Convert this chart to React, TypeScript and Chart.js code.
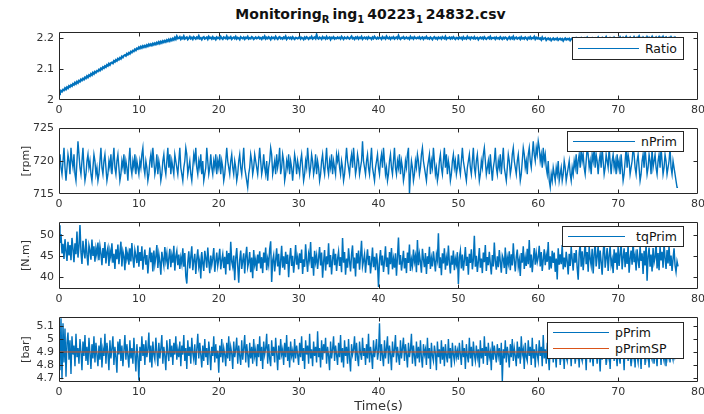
import React, { useEffect, useRef } from "react";
import { Chart, registerables } from "chart.js";

Chart.register(...registerables);

// ---------------- data ----------------
const SAMPLE_STEP_S = 0.125; // sampling interval of the logged signals (s)
const X_TICKS = [0, 10, 20, 30, 40, 50, 60, 70, 80];
const RATIO_TICKS = [2, 2.1, 2.2];
const NPRIM_TICKS = [715, 720, 725];
const TQPRIM_TICKS = [40, 45, 50];
const PPRIM_TICKS = [4.7, 4.8, 4.9, 5, 5.1];

const ratioValues = [
  2.025, 2.022, 2.030, 2.027, 2.033, 2.031, 2.038, 2.034, 2.041, 2.038, 2.045, 2.042, 2.048, 2.045, 2.052, 2.049, 2.056, 2.052, 2.059, 2.055,
  2.062, 2.059, 2.066, 2.063, 2.069, 2.066, 2.073, 2.070, 2.077, 2.073, 2.080, 2.077, 2.084, 2.080, 2.088, 2.084, 2.091, 2.088, 2.094, 2.092,
  2.098, 2.095, 2.102, 2.099, 2.106, 2.103, 2.109, 2.106, 2.113, 2.110, 2.117, 2.113, 2.119, 2.121, 2.118, 2.126, 2.123, 2.129, 2.126, 2.133,
  2.130, 2.136, 2.133, 2.140, 2.137, 2.143, 2.145, 2.142, 2.149, 2.146, 2.152, 2.149, 2.156, 2.153, 2.159, 2.157, 2.163, 2.160, 2.166, 2.164,
  2.170, 2.166, 2.172, 2.168, 2.174, 2.170, 2.175, 2.171, 2.177, 2.173, 2.179, 2.175, 2.180, 2.176, 2.182, 2.178, 2.183, 2.179, 2.185, 2.181,
  2.187, 2.182, 2.188, 2.184, 2.190, 2.186, 2.191, 2.187, 2.193, 2.189, 2.195, 2.190, 2.196, 2.192, 2.198, 2.194, 2.201, 2.196, 2.205, 2.198,
  2.199, 2.203, 2.196, 2.201, 2.198, 2.205, 2.197, 2.200, 2.202, 2.195, 2.199, 2.204, 2.198, 2.201, 2.196, 2.203, 2.200, 2.197, 2.202, 2.199,
  2.206, 2.198, 2.200, 2.195, 2.201, 2.203, 2.197, 2.199, 2.202, 2.196, 2.204, 2.199, 2.201, 2.197, 2.203, 2.198, 2.200, 2.195, 2.202, 2.199,
  2.201, 2.197, 2.204, 2.199, 2.196, 2.202, 2.200, 2.198, 2.205, 2.197, 2.201, 2.199, 2.203, 2.196, 2.200, 2.202, 2.198, 2.204, 2.197, 2.201,
  2.199, 2.195, 2.203, 2.200, 2.198, 2.202, 2.196, 2.201, 2.199, 2.204, 2.197, 2.200, 2.198, 2.203, 2.201, 2.196, 2.199, 2.202, 2.198, 2.200,
  2.203, 2.198, 2.200, 2.196, 2.202, 2.199, 2.205, 2.197, 2.201, 2.198, 2.203, 2.200, 2.195, 2.202, 2.199, 2.201, 2.197, 2.204, 2.199, 2.196,
  2.201, 2.203, 2.198, 2.200, 2.197, 2.202, 2.199, 2.205, 2.196, 2.200, 2.202, 2.198, 2.201, 2.197, 2.203, 2.199, 2.196, 2.201, 2.200, 2.198,
  2.200, 2.204, 2.197, 2.201, 2.199, 2.195, 2.202, 2.198, 2.203, 2.200, 2.196, 2.201, 2.199, 2.204, 2.197, 2.200, 2.202, 2.198, 2.210, 2.199,
  2.197, 2.202, 2.200, 2.196, 2.203, 2.199, 2.201, 2.197, 2.204, 2.198, 2.200, 2.202, 2.195, 2.201, 2.199, 2.203, 2.197, 2.200, 2.198, 2.202,
  2.199, 2.201, 2.197, 2.204, 2.200, 2.196, 2.202, 2.199, 2.198, 2.203, 2.200, 2.197, 2.201, 2.205, 2.198, 2.200, 2.196, 2.202, 2.199, 2.203,
  2.197, 2.201, 2.199, 2.204, 2.196, 2.200, 2.202, 2.198, 2.201, 2.197, 2.203, 2.199, 2.200, 2.196, 2.202, 2.198, 2.204, 2.200, 2.197, 2.201,
  2.198, 2.202, 2.200, 2.196, 2.203, 2.199, 2.201, 2.197, 2.205, 2.200, 2.198, 2.202, 2.196, 2.201, 2.199, 2.203, 2.197, 2.200, 2.202, 2.198,
  2.207, 2.199, 2.196, 2.201, 2.200, 2.203, 2.197, 2.199, 2.202, 2.198, 2.200, 2.196, 2.204, 2.199, 2.201, 2.197, 2.203, 2.200, 2.198, 2.201,
  2.199, 2.203, 2.197, 2.200, 2.202, 2.196, 2.201, 2.199, 2.204, 2.198, 2.200, 2.197, 2.202, 2.199, 2.195, 2.201, 2.203, 2.198, 2.200, 2.196,
  2.202, 2.199, 2.201, 2.197, 2.203, 2.200, 2.198, 2.204, 2.196, 2.200, 2.199, 2.202, 2.197, 2.201, 2.198, 2.203, 2.199, 2.196, 2.201, 2.200,
  2.197, 2.202, 2.199, 2.201, 2.196, 2.203, 2.198, 2.200, 2.197, 2.204, 2.199, 2.201, 2.196, 2.202, 2.200, 2.198, 2.203, 2.197, 2.199, 2.201,
  2.195, 2.200, 2.202, 2.198, 2.201, 2.197, 2.203, 2.199, 2.196, 2.200, 2.202, 2.198, 2.204, 2.197, 2.200, 2.199, 2.201, 2.196, 2.202, 2.198,
  2.200, 2.197, 2.203, 2.199, 2.196, 2.201, 2.198, 2.202, 2.200, 2.195, 2.199, 2.203, 2.197, 2.201, 2.198, 2.204, 2.196, 2.200, 2.202, 2.197,
  2.199, 2.201, 2.196, 2.203, 2.198, 2.200, 2.197, 2.202, 2.199, 2.195, 2.201, 2.198, 2.203, 2.197, 2.200, 2.199, 2.204, 2.196, 2.201, 2.198,
  2.201, 2.197, 2.199, 2.194, 2.202, 2.196, 2.198, 2.200, 2.193, 2.197, 2.199, 2.195, 2.198, 2.192, 2.196, 2.199, 2.194, 2.197, 2.195, 2.199,
  2.193, 2.196, 2.198, 2.194, 2.197, 2.191, 2.196, 2.199, 2.194, 2.197, 2.195, 2.198, 2.192, 2.196, 2.199, 2.194, 2.197, 2.195, 2.200, 2.196,
  2.194, 2.198, 2.196, 2.200, 2.195, 2.197, 2.193, 2.199, 2.196, 2.201, 2.195, 2.198, 2.194, 2.197, 2.200, 2.196, 2.198, 2.193, 2.199, 2.197,
  2.202, 2.195, 2.198, 2.196, 2.200, 2.194, 2.199, 2.197, 2.203, 2.196, 2.198, 2.195, 2.200, 2.197, 2.199, 2.194, 2.201, 2.196, 2.198, 2.197,
  2.200, 2.196, 2.203, 2.198, 2.195, 2.201, 2.197, 2.199, 2.204, 2.196, 2.200, 2.198, 2.202, 2.195, 2.199, 2.197, 2.203, 2.198, 2.196, 2.201,
  2.199, 2.205, 2.197, 2.200, 2.196, 2.202, 2.198, 2.200, 2.195, 2.203, 2.198, 2.201, 2.197, 2.199, 2.204, 2.196, 2.200, 2.198, 2.202, 2.197,
  2.199, 2.203, 2.196, 2.201, 2.198, 2.204, 2.197, 2.200, 2.202, 2.196, 2.199, 2.201, 2.197, 2.203, 2.198, 2.200, 2.196, 2.202, 2.199, 2.197,
  2.200,
];

const nPrimValues = [
  720, 721, 719, 718, 720, 722, 719, 717, 719, 721, 720, 718, 722, 720, 719, 721, 718, 717, 720, 723,
  721, 719, 718, 720, 722, 719, 717, 718, 720, 721, 719, 720, 718, 717, 719, 721, 720, 718, 719, 717,
  718, 720, 722, 719, 718, 720, 721, 719, 717, 718, 720, 719, 721, 718, 720, 722, 719, 718, 720, 721,
  719, 717, 718, 720, 719, 721, 718, 720, 719, 717, 720, 722, 719, 718, 720, 719, 721, 718, 720, 719,
  718, 720, 719, 721, 722, 719, 718, 720, 719, 717, 718, 720, 721, 719, 722, 720, 718, 719, 721, 718,
  720, 719, 717, 718, 720, 721, 719, 718, 720, 722, 719, 721, 718, 720, 719, 718, 721, 720, 719, 718,
  720, 722, 719, 718, 717, 719, 720, 722, 721, 718, 719, 720, 718, 717, 719, 721, 720, 722, 719, 718,
  720, 719, 721, 718, 720, 717, 718, 719, 722, 720, 718, 719, 721, 719, 718, 720, 719, 721, 718, 720,
  719, 721, 718, 720, 719, 717, 718, 720, 722, 720, 719, 718, 720, 721, 719, 718, 720, 719, 717, 718,
  720, 721, 719, 718, 720, 722, 719, 718, 717, 716, 718, 719, 721, 720, 718, 719, 721, 720, 719, 718,
  720, 722, 720, 718, 719, 721, 719, 718, 720, 717, 719, 720, 722, 721, 718, 719, 720, 718, 721, 719,
  720, 722, 718, 719, 721, 720, 717, 718, 720, 719, 721, 718, 720, 719, 717, 719, 721, 720, 718, 720,
  719, 718, 720, 721, 719, 717, 718, 720, 719, 722, 720, 718, 719, 721, 720, 718, 719, 721, 718, 720,
  719, 717, 718, 720, 721, 719, 718, 720, 722, 719, 718, 720, 719, 721, 718, 720, 719, 718, 721, 720,
  721, 719, 718, 720, 719, 717, 718, 720, 722, 720, 719, 718, 720, 721, 719, 722, 720, 718, 719, 721,
  720, 718, 719, 720, 723, 720, 719, 718, 720, 721, 719, 718, 720, 722, 719, 718, 717, 719, 720, 721,
  719, 718, 720, 721, 719, 722, 720, 718, 719, 717, 718, 720, 721, 719, 718, 720, 722, 719, 718, 720,
  719, 721, 718, 720, 719, 717, 718, 720, 719, 721, 722, 715, 718, 720, 719, 717, 718, 720, 719, 721,
  720, 718, 719, 721, 722, 720, 719, 718, 717, 719, 720, 721, 718, 720, 719, 722, 720, 718, 719, 717,
  718, 720, 721, 719, 718, 720, 722, 719, 721, 718, 720, 719, 717, 718, 720, 721, 719, 720, 718, 719,
  721, 719, 718, 720, 722, 720, 719, 718, 717, 719, 720, 721, 719, 718, 720, 722, 719, 718, 720, 721,
  719, 717, 718, 720, 719, 721, 722, 720, 718, 719, 720, 718, 721, 719, 717, 719, 720, 722, 719, 718,
  720, 719, 721, 718, 720, 722, 719, 718, 717, 719, 721, 720, 718, 719, 721, 722, 720, 719, 718, 720,
  721, 719, 717, 718, 720, 722, 721, 719, 720, 718, 721, 722, 720, 719, 721, 723, 721, 720, 722, 721,
  723, 722, 720, 721, 719, 722, 720, 721, 719, 718, 720, 717, 716, 718, 717, 719, 718, 717, 719, 718,
  720, 717, 718, 719, 717, 718, 720, 719, 717, 718, 719, 720, 718, 717, 719, 718, 720, 719, 721, 718,
  720, 721, 719, 722, 720, 721, 719, 718, 720, 722, 721, 719, 720, 718, 721, 720, 722, 719, 721, 720,
  718, 720, 721, 719, 722, 720, 718, 719, 721, 720, 719, 722, 720, 718, 720, 721, 719, 720, 718, 721,
  719, 720, 718, 721, 719, 717, 718, 720, 722, 719, 721, 720, 718, 719, 720, 722, 721, 719, 718, 720,
  721, 719, 717, 718, 720, 721, 719, 722, 720, 718, 719, 721, 720, 718, 722, 719, 720, 721, 719, 718,
  720, 721, 719, 722, 720, 718, 719, 721, 720, 718, 719, 720, 722, 719, 718, 720, 719, 718, 717, 716,
  716,
];

const tqPrimValues = [
  52.3, 48.1, 50.2, 45.6, 47.9, 44.3, 49.0, 46.2, 43.8, 48.4, 45.1, 47.6, 44.0, 49.3, 46.7, 43.5, 48.0, 45.4, 50.8, 44.6,
  47.2, 52.4, 45.9, 43.1, 48.6, 46.0, 44.4, 49.1, 45.3, 42.7, 47.5, 46.3, 44.1, 48.9, 45.0, 47.3, 43.6, 46.8, 45.2, 48.2,
  44.0, 47.4, 45.6, 42.8, 46.9, 44.5, 48.3, 43.2, 45.9, 47.0, 42.6, 46.2, 44.7, 48.0, 43.4, 45.5, 41.9, 46.6, 44.2, 47.7,
  43.0, 45.8, 48.4, 42.5, 46.1, 44.9, 41.6, 47.2, 44.3, 45.7, 42.9, 46.8, 43.7, 48.1, 44.6, 42.2, 46.4, 45.0, 43.3, 47.5,
  42.4, 45.9, 43.8, 47.3, 41.7, 44.6, 46.5, 42.9, 45.2, 40.8, 44.1, 47.0, 43.5, 45.8, 41.3, 46.3, 43.0, 44.8, 47.6, 42.1,
  45.4, 43.6, 40.5, 46.0, 44.2, 42.7, 47.1, 43.9, 45.6, 41.8, 44.5, 46.7, 42.3, 45.1, 43.4, 47.4, 41.5, 44.9, 46.2, 42.8,
  45.3, 41.9, 44.6, 43.1, 46.8, 42.4, 45.7, 40.2, 38.4, 43.5, 46.1, 42.0, 44.8, 47.3, 41.6, 43.9, 45.5, 40.7, 44.2, 46.6,
  42.5, 44.0, 39.6, 45.9, 43.3, 41.4, 46.2, 44.5, 42.2, 47.0, 43.7, 40.9, 45.1, 42.8, 44.4, 46.9, 41.2, 43.6, 45.8, 42.6,
  44.3, 46.7, 41.8, 43.9, 45.4, 42.1, 44.8, 40.6, 46.2, 43.0, 45.7, 41.5, 48.4, 43.6, 42.4, 45.1, 39.2, 44.5, 46.9, 42.7,
  38.6, 44.1, 46.3, 41.9, 43.8, 45.6, 40.8, 44.9, 47.2, 42.3, 43.5, 45.9, 41.1, 44.6, 39.7, 46.4, 42.9, 44.2, 41.4, 45.3,
  43.2, 46.1, 42.0, 44.7, 40.9, 45.8, 43.4, 47.0, 41.6, 44.3, 42.8, 46.6, 48.5, 38.8, 43.9, 45.2, 41.3, 44.0, 46.8, 42.5,
  45.5, 40.4, 43.7, 47.4, 42.2, 44.9, 41.7, 46.0, 43.1, 45.3, 39.9, 44.4, 46.9, 42.6, 45.0, 41.0, 43.8, 47.6, 42.9, 44.6,
  41.8, 45.6, 43.3, 46.5, 40.7, 44.2, 42.4, 47.8, 43.9, 41.2, 45.4, 44.0, 48.3, 42.1, 44.8, 40.3, 46.2, 43.5, 45.1, 41.9,
  44.5, 47.1, 42.7, 45.8, 39.8, 43.6, 46.4, 41.5, 44.9, 43.0, 48.0, 42.3, 45.2, 40.6, 44.1, 46.7, 42.8, 45.5, 41.4, 44.3,
  46.0, 42.6, 44.7, 41.1, 49.3, 43.4, 45.9, 40.5, 44.4, 42.2, 46.8, 43.7, 41.3, 45.3, 47.5, 42.0, 44.6, 40.1, 45.7, 43.2,
  46.3, 41.7, 44.9, 48.6, 42.5, 43.9, 45.4, 41.0, 44.2, 46.6, 42.8, 45.0, 40.8, 43.5, 47.0, 42.3, 44.8, 41.6, 45.6, 43.1,
  37.6, 44.0, 46.4, 42.7, 45.1, 41.2, 43.8, 47.3, 42.4, 44.6, 40.6, 45.9, 43.0, 46.9, 41.8, 44.3, 42.2, 45.6, 40.3, 44.8,
  49.4, 42.9, 45.2, 41.5, 43.7, 46.2, 42.0, 44.5, 40.9, 45.8, 43.3, 47.7, 41.4, 44.1, 42.6, 46.5, 43.6, 45.0, 41.1, 48.8,
  42.8, 45.4, 43.5, 41.0, 46.7, 44.2, 42.3, 45.7, 40.7, 44.9, 43.1, 47.2, 41.9, 44.4, 42.5, 46.1, 43.8, 41.3, 45.3, 44.0,
  50.4, 42.1, 44.7, 40.4, 45.6, 43.2, 46.8, 41.7, 44.5, 42.7, 47.5, 43.4, 40.8, 45.1, 42.9, 46.3, 41.6, 44.3, 43.0, 45.9,
  38.3, 44.6, 46.2, 42.0, 45.3, 41.5, 43.9, 47.1, 42.6, 44.8, 40.5, 45.5, 43.3, 46.6, 41.8, 44.1, 49.8, 42.4, 45.0, 41.2,
  43.7, 46.9, 42.2, 44.4, 40.9, 45.8, 43.5, 47.6, 41.4, 44.7, 42.8, 46.0, 43.1, 40.6, 45.2, 42.5, 48.2, 43.8, 41.7, 44.9,
  42.3, 46.4, 43.6, 41.0, 45.1, 44.3, 42.1, 47.0, 40.7, 44.6, 43.2, 46.1, 41.6, 45.4, 42.7, 48.0, 43.9, 41.3, 44.8, 46.5,
  42.4, 44.0, 40.2, 45.7, 43.4, 47.3, 41.9, 44.5, 42.6, 46.7, 43.0, 48.8, 42.2, 45.3, 41.1, 44.2, 46.9, 42.9, 45.6, 43.5,
  44.7, 47.4, 42.5, 45.9, 41.4, 44.1, 46.6, 42.8, 45.2, 43.6, 48.3, 41.7, 44.9, 42.0, 46.2, 43.3, 45.8, 41.2, 44.4, 39.4,
  46.8, 42.9, 45.4, 43.0, 47.6, 41.8, 44.6, 42.3, 46.0, 43.7, 40.6, 45.5, 42.6, 47.1, 44.2, 41.5, 45.7, 43.4, 46.4, 42.1,
  39.3, 45.6, 47.8, 42.4, 46.1, 41.6, 44.8, 48.4, 43.0, 45.9, 41.2, 47.2, 44.3, 42.7, 46.7, 40.8, 45.3, 48.1, 42.5, 44.9,
  47.5, 41.9, 46.3, 43.6, 40.5, 45.7, 48.6, 42.2, 44.5, 46.9, 41.4, 45.0, 47.3, 42.8, 44.1, 40.9, 46.6, 43.3, 45.8, 41.7,
  47.1, 42.6, 45.4, 48.2, 41.8, 44.7, 46.8, 42.3, 45.9, 43.1, 47.7, 41.0, 44.4, 46.3, 42.9, 48.5, 43.5, 45.1, 41.5, 46.6,
  44.0, 42.1, 47.4, 43.8, 45.6, 40.7, 46.2, 42.7, 48.0, 39.1, 44.9, 47.0, 42.4, 45.3, 41.3, 46.9, 43.4, 44.6, 48.3, 42.0,
  45.7, 41.6, 47.2, 43.9, 46.0, 42.2, 48.1, 44.5, 41.9, 46.4, 43.2, 47.5, 42.6, 45.1, 41.4, 44.3, 46.8, 42.8, 41.2, 43.7,
  42.5,
];

const pPrimValues = [
  5.03, 4.76, 5.16, 4.69, 5.12, 4.82, 5.08, 4.71, 4.97, 5.05, 4.84, 4.99, 4.73, 5.02, 4.88, 4.95, 4.79, 5.04, 4.86, 4.93,
  4.81, 5.00, 4.90, 4.76, 4.98, 4.87, 5.03, 4.83, 4.94, 4.80, 5.01, 4.89, 4.77, 4.96, 4.85, 5.02, 4.82, 4.97, 4.88, 4.79,
  4.95, 4.84, 5.01, 4.78, 4.92, 4.87, 5.04, 4.81, 4.97, 4.89, 4.76, 4.99, 4.85, 4.93, 5.02, 4.80, 4.94, 4.86, 4.74, 4.98,
  4.88, 5.00, 4.83, 4.95, 4.79, 4.91, 5.03, 4.84, 4.96, 4.87, 4.78, 4.99, 4.85, 4.93, 4.81, 5.01, 4.88, 4.75, 4.96, 4.86,
  4.68, 4.94, 4.83, 5.02, 4.87, 4.96, 4.80, 4.99, 4.86, 4.92, 5.05, 4.82, 4.95, 4.78, 4.98, 4.88, 4.84, 5.01, 4.90, 4.79,
  4.97, 4.85, 4.93, 5.03, 4.81, 4.94, 4.87, 4.76, 4.99, 4.89, 4.83, 5.00, 4.86, 4.95, 4.80, 4.97, 4.88, 5.02, 4.84, 4.92,
  4.86, 4.98, 4.79, 4.95, 4.88, 5.03, 4.83, 4.93, 4.77, 4.99, 4.87, 4.94, 4.81, 5.01, 4.89, 4.84, 4.96, 4.80, 4.92, 5.04,
  4.85, 4.97, 4.88, 4.78, 4.95, 4.83, 5.00, 4.86, 4.93, 4.80, 4.98, 4.89, 4.76, 4.94, 4.87, 5.02, 4.82, 4.96, 4.85, 4.91,
  4.74, 4.95, 4.86, 5.00, 4.82, 4.93, 4.88, 4.79, 4.97, 4.85, 5.02, 4.83, 4.94, 4.89, 4.77, 4.98, 4.86, 4.92, 5.01, 4.81,
  4.95, 4.87, 4.80, 4.99, 4.84, 4.93, 5.03, 4.82, 4.96, 4.88, 4.78, 4.97, 4.85, 4.94, 4.81, 5.00, 4.87, 4.92, 4.79, 4.96,
  4.86, 5.02, 4.83, 4.94, 4.77, 4.98, 4.88, 4.93, 5.04, 4.81, 4.96, 4.85, 4.79, 4.99, 4.87, 4.94, 4.82, 5.01, 4.89, 4.76,
  4.95, 4.84, 5.00, 4.88, 4.92, 4.80, 4.97, 4.86, 5.03, 4.83, 4.94, 4.78, 4.98, 4.87, 4.91, 4.82, 5.00, 4.85, 4.95, 4.88,
  4.80, 4.97, 4.86, 5.02, 4.83, 4.93, 4.77, 4.99, 4.88, 4.95, 4.81, 5.04, 4.85, 4.92, 4.79, 4.98, 4.87, 4.94, 4.82, 5.06,
  4.86, 4.93, 4.78, 4.99, 4.84, 4.96, 4.89, 5.01, 4.81, 4.94, 4.87, 4.76, 4.98, 4.85, 4.92, 5.02, 4.83, 4.95, 4.88, 4.80,
  4.97, 4.86, 5.03, 4.82, 4.93, 4.78, 4.99, 4.87, 4.94, 4.81, 5.00, 4.85, 4.75, 4.96, 4.88, 4.92, 5.02, 4.83, 4.97, 4.86,
  4.79, 4.98, 4.89, 4.84, 5.01, 4.87, 4.93, 4.80, 4.96, 4.85, 5.04, 4.82, 4.94, 4.88, 4.77, 4.99, 4.86, 4.92, 5.00, 4.84,
  4.90, 5.12, 4.83, 4.96, 4.87, 4.79, 4.99, 4.85, 4.93, 5.02, 4.81, 4.95, 4.88, 4.76, 4.98, 4.86, 4.92, 5.03, 4.82, 4.94,
  4.87, 4.80, 4.99, 4.85, 4.93, 5.01, 4.83, 4.96, 4.88, 4.78, 4.97, 4.86, 4.92, 5.04, 4.81, 4.95, 4.87, 4.79, 4.98, 4.85,
  4.94, 4.82, 4.99, 4.86, 4.78, 4.96, 4.88, 4.92, 4.80, 5.01, 4.85, 4.93, 4.77, 4.97, 4.87, 4.83, 4.95, 4.89, 4.76, 4.98,
  4.86, 4.92, 4.81, 4.99, 4.84, 4.94, 4.79, 4.96, 4.87, 4.82, 5.00, 4.85, 4.93, 4.78, 4.97, 4.88, 4.83, 4.95, 4.86, 4.91,
  4.84, 4.97, 4.88, 4.80, 4.99, 4.86, 4.93, 4.77, 4.96, 4.87, 4.82, 5.01, 4.85, 4.94, 4.79, 4.98, 4.88, 4.83, 4.95, 4.86,
  4.92, 4.78, 4.99, 4.85, 4.93, 4.81, 5.02, 4.87, 4.94, 4.80, 4.97, 4.86, 4.90, 4.76, 4.98, 4.84, 4.95, 4.88, 4.82, 4.96,
  4.87, 4.93, 4.80, 4.97, 4.67, 4.92, 4.85, 4.99, 4.82, 4.94, 4.88, 4.78, 4.96, 4.86, 5.00, 4.83, 4.93, 4.87, 4.79, 4.98,
  4.85, 4.94, 4.81, 5.02, 4.88, 4.92, 4.77, 4.97, 4.86, 4.83, 4.99, 4.87, 4.94, 4.80, 5.01, 4.85, 4.92, 4.78, 4.96, 4.88,
  4.83, 4.99, 4.87, 4.94, 4.79, 5.03, 4.85, 4.92, 4.81, 4.97, 4.88, 4.76, 4.95, 4.86, 5.01, 4.82, 4.93, 4.89, 4.78, 4.98,
  4.85, 4.94, 4.80, 5.02, 4.87, 4.92, 4.77, 4.96, 4.86, 4.83, 5.00, 4.88, 4.93, 4.79, 4.97, 4.85, 4.91, 4.81, 4.99, 4.87,
  4.92, 4.78, 4.97, 4.86, 4.83, 5.01, 4.88, 4.93, 4.76, 4.96, 4.85, 4.99, 4.82, 4.94, 4.87, 4.79, 5.00, 4.86, 4.92, 4.81,
  4.97, 4.88, 4.75, 4.95, 4.84, 5.02, 4.87, 4.93, 4.80, 4.98, 4.86, 4.91, 4.77, 4.96, 4.85, 5.00, 4.83, 4.94, 4.88, 4.79,
  4.95, 4.86, 4.81, 4.99, 4.87, 4.93, 4.76, 4.97, 4.85, 5.01, 4.83, 4.94, 4.88, 4.79, 4.96, 4.86, 4.92, 4.78, 5.00, 4.87,
  4.82, 4.95, 4.89, 4.77, 4.98, 4.85, 4.93, 4.80, 4.97, 4.86, 4.91, 4.78, 4.99, 4.87, 4.84, 4.95, 4.81, 4.93, 4.88, 4.79,
  4.96, 4.85, 4.92, 4.80, 4.98, 4.87, 4.83, 4.94, 4.79, 4.97, 4.86, 4.91, 4.82, 4.95, 4.88, 4.84, 4.93, 4.86, 4.89, 4.87,
  4.88,
];

const pPrimSPTimes = [0, 77.5];
const pPrimSPValues = [4.9, 4.9];

// ---------------- styles ----------------
const FONT = '"DejaVu Sans", "Liberation Sans", Arial, sans-serif';
const BLUE = "#0072BD";
const ORANGE = "#D95319";
const AXIS = "#262626";
const TEXT = "#333333";

type Series = { name: string; times: number[]; values: number[]; color: string; width: number; order: number };
type Legend = { left: number; top: number; width: number; height: number; lineW: number; alignText: "left" | "right" };
type Panel = {
  top: number;
  height: number;
  yMin: number;
  yMax: number;
  yTicks: number[];
  yTitle: string;
  series: Series[];
  legend: Legend;
};

const sampleTimes = (n: number) => Array.from({ length: n }, (_, i) => i * SAMPLE_STEP_S);

const PANELS: Panel[] = [
  {
    top: 32, height: 68, yMin: 2, yMax: 2.219, yTicks: RATIO_TICKS, yTitle: "",
    series: [{ name: "Ratio", times: sampleTimes(ratioValues.length), values: ratioValues, color: BLUE, width: 2, order: 1 }],
    legend: { left: 572, top: 37, width: 112, height: 23, lineW: 62, alignText: "right" },
  },
  {
    top: 128, height: 66, yMin: 715, yMax: 725, yTicks: NPRIM_TICKS, yTitle: "[rpm]",
    series: [{ name: "nPrim", times: sampleTimes(nPrimValues.length), values: nPrimValues, color: BLUE, width: 1.4, order: 1 }],
    legend: { left: 567, top: 131, width: 117, height: 21, lineW: 64, alignText: "right" },
  },
  {
    top: 222, height: 67, yMin: 37.1, yMax: 53.1, yTicks: TQPRIM_TICKS, yTitle: "[N.m]",
    series: [{ name: "tqPrim", times: sampleTimes(tqPrimValues.length), values: tqPrimValues, color: BLUE, width: 1.5, order: 1 }],
    legend: { left: 562, top: 226, width: 122, height: 21, lineW: 57, alignText: "right" },
  },
  {
    top: 317, height: 65, yMin: 4.669, yMax: 5.169, yTicks: PPRIM_TICKS, yTitle: "[bar]",
    series: [
      { name: "pPrim", times: sampleTimes(pPrimValues.length), values: pPrimValues, color: BLUE, width: 1.4, order: 1 },
      { name: "pPrimSP", times: pPrimSPTimes, values: pPrimSPValues, color: ORANGE, width: 1, order: 0 },
    ],
    legend: { left: 547, top: 322, width: 137, height: 37, lineW: 56, alignText: "left" },
  },
];

const PAD_TOP = 10;
const X_AXIS_H = 20;
const Y_AXIS_W = 59;
const PAD_RIGHT = 6;

// draws the MATLAB style box with inward tick marks
const boxPlugin = {
  id: "matlabBox",
  afterDraw(chart: any) {
    const { ctx, chartArea: a, scales } = chart;
    const L = Math.round(a.left) + 0.5;
    const R = Math.round(a.right) - 0.5;
    const T = Math.round(a.top) + 0.5;
    const B = Math.round(a.bottom) - 0.5;
    ctx.save();
    ctx.strokeStyle = AXIS;
    ctx.lineWidth = 1;
    ctx.beginPath();
    ctx.rect(L, T, R - L, B - T);
    const tl = 4;
    for (const t of scales.x.ticks) {
      const x = Math.round(scales.x.getPixelForValue(t.value)) + 0.5;
      if (x <= L + 1 || x >= R - 1) continue;
      ctx.moveTo(x, B);
      ctx.lineTo(x, B - tl);
      ctx.moveTo(x, T);
      ctx.lineTo(x, T + tl);
    }
    for (const t of scales.y.ticks) {
      const y = Math.round(scales.y.getPixelForValue(t.value)) + 0.5;
      if (y <= T + 1 || y >= B - 1) continue;
      ctx.moveTo(L, y);
      ctx.lineTo(L + tl, y);
      ctx.moveTo(R, y);
      ctx.lineTo(R - tl, y);
    }
    ctx.stroke();
    ctx.restore();
  },
};

const fmtTick = (v: any) => String(Number(v));

function PanelChart({ panel }: { panel: Panel }) {
  const ref = useRef<HTMLCanvasElement | null>(null);
  const canvasH = PAD_TOP + panel.height + X_AXIS_H;
  useEffect(() => {
    if (!ref.current) return;
    const tickFont = { family: FONT, size: 11 };
    const chart = new Chart(ref.current, {
      type: "line",
      data: {
        datasets: panel.series.map((s) => ({
          label: s.name,
          data: s.times.map((t, i) => ({ x: t, y: s.values[i] })),
          borderColor: s.color,
          backgroundColor: s.color,
          borderWidth: s.width,
          order: s.order,
          pointRadius: 0,
          tension: 0,
          fill: false,
        })),
      },
      options: {
        animation: false,
        responsive: false,
        maintainAspectRatio: false,
        events: [],
        layout: { padding: { left: 0, right: PAD_RIGHT, top: PAD_TOP, bottom: 0 } },
        plugins: { legend: { display: false }, tooltip: { enabled: false }, title: { display: false } },
        scales: {
          x: {
            type: "linear",
            min: 0,
            max: 80,
            afterBuildTicks: (s: any) => { s.ticks = X_TICKS.map((v) => ({ value: v })); },
            afterFit: (s: any) => { s.height = X_AXIS_H; s.paddingLeft = 0; s.paddingRight = 0; },
            grid: { display: false, drawTicks: false },
            border: { display: false },
            ticks: { font: tickFont, color: TEXT, padding: 4, maxRotation: 0, autoSkip: false, callback: fmtTick },
          },
          y: {
            type: "linear",
            min: panel.yMin,
            max: panel.yMax,
            afterBuildTicks: (s: any) => { s.ticks = panel.yTicks.map((v) => ({ value: v })); },
            afterFit: (s: any) => { s.width = Y_AXIS_W; s.paddingTop = 0; s.paddingBottom = 0; },
            grid: { display: false, drawTicks: false },
            border: { display: false },
            ticks: { font: tickFont, color: TEXT, padding: 5, autoSkip: false, callback: fmtTick },
            title: {
              display: panel.yTitle !== "",
              text: panel.yTitle,
              font: { family: FONT, size: 11 },
              color: TEXT,
              padding: { top: 20, bottom: 0 },
            },
          },
        },
      },
      plugins: [boxPlugin],
    } as any);
    return () => chart.destroy();
  }, [panel]);

  const lg = panel.legend;
  return (
    <>
      <canvas
        ref={ref}
        width={704}
        height={canvasH}
        style={{ position: "absolute", left: 0, top: panel.top - PAD_TOP, width: 704, height: canvasH }}
      />
      <div
        style={{
          position: "absolute",
          left: lg.left,
          top: lg.top,
          width: lg.width,
          height: lg.height,
          boxSizing: "border-box",
          border: `1px solid ${AXIS}`,
          background: "#fff",
          display: "flex",
          flexDirection: "column",
          justifyContent: "center",
          paddingLeft: 5,
          paddingRight: 6,
          fontFamily: FONT,
          fontSize: 12.5,
          color: "#111",
        }}
      >
        {panel.series.map((s) => (
          <div
            key={s.name}
            style={{
              display: "flex",
              alignItems: "center",
              height: 16,
              justifyContent: lg.alignText === "right" ? "space-between" : "flex-start",
            }}
          >
            <span style={{ display: "inline-block", width: lg.lineW, borderTop: `1px solid ${s.color}`, marginRight: 6 }} />
            <span>{s.name}</span>
          </div>
        ))}
      </div>
    </>
  );
}

const subStyle: React.CSSProperties = { fontSize: 10, verticalAlign: -4, lineHeight: 0, marginRight: 3 };

export default function App() {
  return (
    <div style={{ position: "fixed", left: 0, top: 0, width: 704, height: 414, background: "#fff", overflow: "hidden" }}>
      <div
        style={{
          position: "absolute",
          left: 51,
          width: 639,
          top: 6,
          textAlign: "center",
          fontFamily: FONT,
          fontWeight: "bold",
          fontSize: 14,
          color: "#111",
          lineHeight: "16px",
          whiteSpace: "nowrap",
        }}
      >
        Monitoring<sub style={subStyle}>R</sub>ing<sub style={subStyle}>1</sub>40223<sub style={subStyle}>1</sub>24832.csv
      </div>
      {PANELS.map((p, i) => (
        <PanelChart key={i} panel={p} />
      ))}
      <div
        style={{
          position: "absolute",
          left: 59,
          width: 639,
          top: 399,
          textAlign: "center",
          fontFamily: FONT,
          fontSize: 13,
          color: TEXT,
          lineHeight: "14px",
        }}
      >
        Time(s)
      </div>
    </div>
  );
}
